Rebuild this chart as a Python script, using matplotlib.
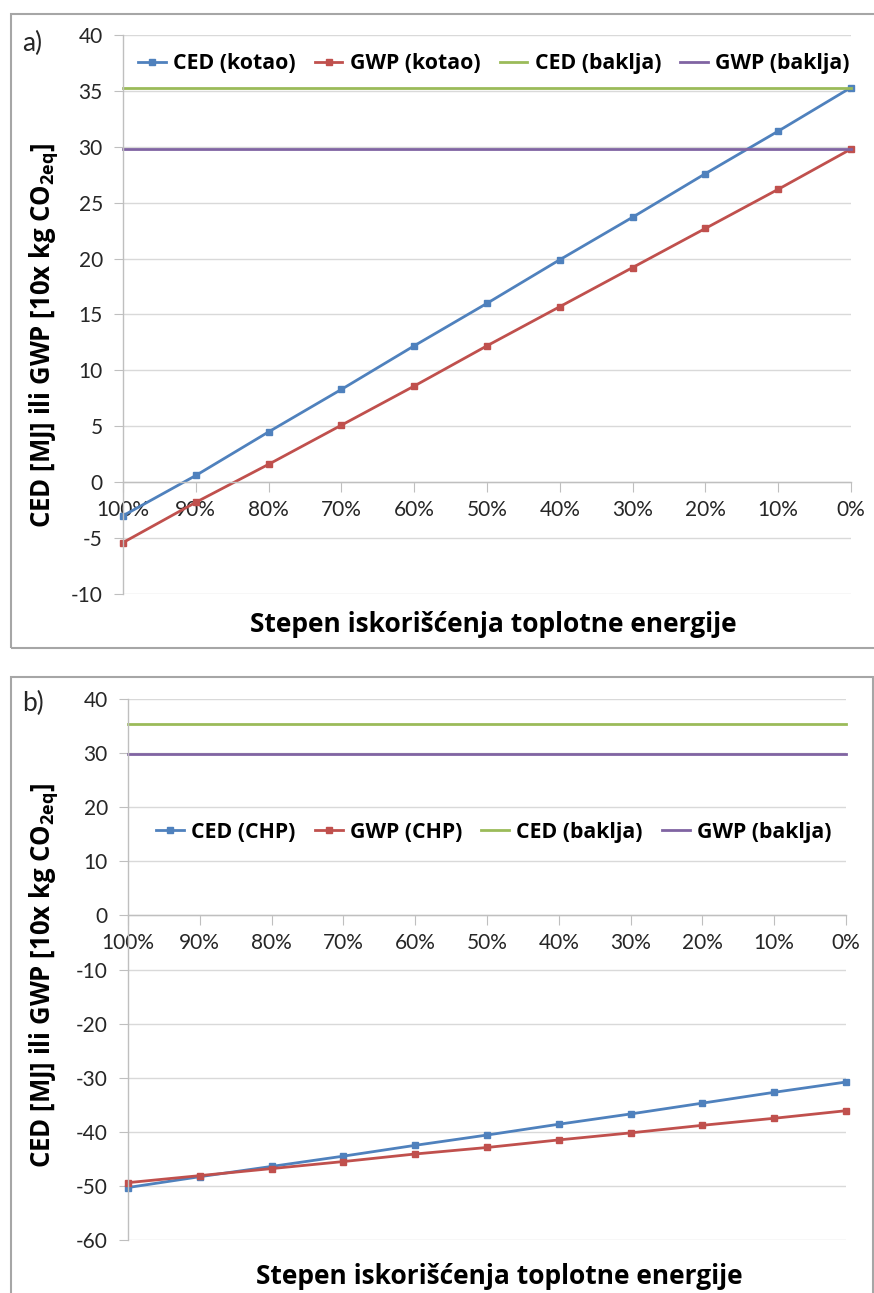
import matplotlib
matplotlib.use("Agg")
import matplotlib.pyplot as plt
from matplotlib.patches import Rectangle

# ---------------- data ----------------
categories = ["100%", "90%", "80%", "70%", "60%", "50%", "40%", "30%", "20%", "10%", "0%"]

ced_kotao = [-3.0, 0.6, 4.5, 8.3, 12.2, 16.0, 19.9, 23.7, 27.6, 31.4, 35.3]
gwp_kotao = [-5.4, -1.8, 1.6, 5.1, 8.6, 12.2, 15.7, 19.2, 22.7, 26.2, 29.8]

ced_chp = [-50.3, -48.3, -46.4, -44.5, -42.5, -40.6, -38.6, -36.7, -34.7, -32.7, -30.8]
gwp_chp = [-49.4, -48.1, -46.8, -45.5, -44.1, -42.9, -41.5, -40.2, -38.8, -37.5, -36.1]

ced_baklja = 35.3
gwp_baklja = 29.8

yticks_a = [-10, -5, 0, 5, 10, 15, 20, 25, 30, 35, 40]
yticks_b = [-60, -50, -40, -30, -20, -10, 0, 10, 20, 30, 40]

labels_a = ["CED (kotao)", "GWP (kotao)", "CED (baklja)", "GWP (baklja)"]
labels_b = ["CED (CHP)", "GWP (CHP)", "CED (baklja)", "GWP (baklja)"]

xlabel = "Stepen iskorišćenja toplotne energije"
ylabel = r"CED [MJ] ili GWP [10x kg CO$_{\mathbf{2eq}}$]"

# ---------------- style ----------------
C_BLUE = "#4F81BD"
C_RED = "#C0504D"
C_GREEN = "#9BBB59"
C_PURPLE = "#8064A2"
C_GRID = "#D9D9D9"
C_AXIS = "#BFBFBF"
C_FRAME = "#A6A6A6"

TICK_FONT = ["Lato", "DejaVu Sans"]
BOLD_FONT = ["Open Sans", "DejaVu Sans"]

plt.rcParams["axes.unicode_minus"] = False
plt.rcParams["mathtext.fontset"] = "custom"
plt.rcParams["mathtext.bf"] = "Open Sans:bold"
plt.rcParams["mathtext.rm"] = "Open Sans:bold"

W, H = 874, 1293
fig = plt.figure(figsize=(W / 100, H / 100), dpi=100)


def px_axes(left, top, right, bottom):
    return fig.add_axes([left / W, 1 - bottom / H, (right - left) / W, (bottom - top) / H])


def style_axes(ax, yticks):
    x = list(range(len(categories)))
    ax.set_xlim(0, len(categories) - 1)
    ax.set_ylim(yticks[0], yticks[-1])
    ax.set_yticks(yticks)
    ax.set_xticks(x)
    ax.set_xticklabels(categories)
    for s in ["top", "right"]:
        ax.spines[s].set_visible(False)
    ax.spines["left"].set_color(C_AXIS)
    ax.spines["left"].set_linewidth(1)
    ax.spines["bottom"].set_position(("data", 0))
    ax.spines["bottom"].set_color(C_AXIS)
    ax.spines["bottom"].set_linewidth(1)
    ax.grid(axis="y", color=C_GRID, linewidth=1)
    ax.set_axisbelow(True)
    ax.tick_params(axis="y", direction="out", length=6.5, color=C_AXIS, pad=8,
                   labelsize=15, labelcolor="#262626")
    ax.tick_params(axis="x", direction="out", length=7, color=C_AXIS, pad=6,
                   labelsize=15, labelcolor="#262626")
    for lab in ax.get_xticklabels() + ax.get_yticklabels():
        lab.set_family(TICK_FONT)
    return x


def add_frame(left, top, right, bottom):
    fig.patches.append(Rectangle((left / W, 1 - bottom / H), (right - left) / W,
                                 (bottom - top) / H, transform=fig.transFigure,
                                 fill=False, edgecolor=C_FRAME, linewidth=1.5))


add_frame(11, 14, 880, 648)
add_frame(11, 677, 873, 1300)

LEG_KW = dict(loc="center", ncol=4, frameon=False, handlelength=1.3, handletextpad=0.35,
              columnspacing=0.9, prop={"family": BOLD_FONT, "weight": "bold", "size": 15.3})

# ---------------- panel a ----------------
ax1 = px_axes(123, 35, 851, 594)
x = style_axes(ax1, yticks_a)
mk = dict(marker="s", markersize=4.5, linewidth=2, clip_on=False)
ax1.plot(x, ced_kotao, color=C_BLUE, label=labels_a[0], **mk)
ax1.plot(x, gwp_kotao, color=C_RED, label=labels_a[1], **mk)
ax1.plot(x, [ced_baklja] * len(x), color=C_GREEN, linewidth=2, label=labels_a[2], clip_on=False)
ax1.plot(x, [gwp_baklja] * len(x), color=C_PURPLE, linewidth=2, label=labels_a[3], clip_on=False)
ax1.legend(bbox_to_anchor=((494 - 123) / 728, (594 - 64) / 559), **LEG_KW)

fig.text(22 / W, 1 - 43 / H, "a)", fontsize=19, family=TICK_FONT, va="center", ha="left",
         color="#262626")
fig.text(493 / W, 1 - 625 / H, xlabel, fontsize=19, fontweight="bold", family=BOLD_FONT,
         ha="center", va="center")
fig.text(44 / W, 1 - 335 / H, ylabel, fontsize=18.5, fontweight="bold", family=BOLD_FONT,
         ha="center", va="center", rotation=90)

# ---------------- panel b ----------------
ax2 = px_axes(128, 699, 846, 1240)
x = style_axes(ax2, yticks_b)
ax2.plot(x, ced_chp, color=C_BLUE, label=labels_b[0], **mk)
ax2.plot(x, gwp_chp, color=C_RED, label=labels_b[1], **mk)
ax2.plot(x, [ced_baklja] * len(x), color=C_GREEN, linewidth=2, label=labels_b[2], clip_on=False)
ax2.plot(x, [gwp_baklja] * len(x), color=C_PURPLE, linewidth=2, label=labels_b[3], clip_on=False)
ax2.legend(bbox_to_anchor=((494 - 128) / 718, (1240 - 832) / 541), **LEG_KW)

fig.text(22 / W, 1 - 703 / H, "b)", fontsize=19, family=TICK_FONT, va="center", ha="left",
         color="#262626")
fig.text(499 / W, 1 - 1277 / H, xlabel, fontsize=19, fontweight="bold", family=BOLD_FONT,
         ha="center", va="center")
fig.text(44 / W, 1 - 975 / H, ylabel, fontsize=18.5, fontweight="bold", family=BOLD_FONT,
         ha="center", va="center", rotation=90)

fig.savefig("out.png", dpi=100)
